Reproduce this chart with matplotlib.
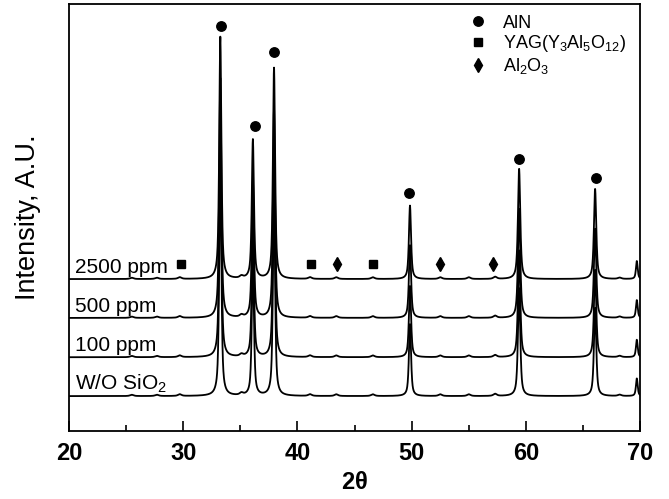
import numpy as np
import matplotlib.pyplot as plt
from matplotlib.lines import Line2D

plt.rcParams['font.family'] = ['Liberation Sans', 'DejaVu Sans']
plt.rcParams['mathtext.fontset'] = 'custom'
plt.rcParams['mathtext.rm'] = 'Liberation Sans'
plt.rcParams['mathtext.it'] = 'Liberation Sans'
plt.rcParams['mathtext.bf'] = 'Liberation Sans:bold'

## samples, bottom to top
samples = ['W/O SiO$_2$', '100 ppm', '500 ppm', '2500 ppm']
offsets = [82, 173, 265, 356]          ## baseline of each trace (a.u.)

## main AlN reflections: position (deg), height above baseline (a.u.)
aln_pos = [33.25, 36.1, 37.95, 49.85, 59.4, 66.05, 69.7]
aln_height = [567, 326, 494, 172, 258, 211, 42]
aln_hwhm = [0.11, 0.11, 0.11, 0.11, 0.12, 0.12, 0.09]

## small secondary bumps (YAG / Al2O3 / others)
minor_pos = [25.5, 27.7, 29.7, 35.1, 41.1, 43.4, 46.6, 52.5, 55.0, 57.3, 68.2]
minor_height = [3, 3, 4, 5, 4, 4, 4, 4, 4, 5, 3]

## per-sample intensity scale of the main peaks
scale = [0.98, 0.97, 0.99, 1.0]

## phase markers over the 2500 ppm trace
aln_mark_x = [33.35, 36.25, 37.95, 49.8, 59.4, 66.1]
aln_mark_y = [949, 715, 888, 558, 638, 592]
yag_mark_x = [29.8, 41.2, 46.6]
al2o3_mark_x = [43.45, 52.5, 57.1]
phase_mark_y = 391

two_theta = np.arange(20.0, 70.0, 0.01)


def peak(x, x0, h, w):
    ## pseudo-Voigt profile
    lor = 1.0 / (1.0 + ((x - x0) / w) ** 2)
    gau = np.exp(-np.log(2) * ((x - x0) / w) ** 2)
    return h * (0.7 * lor + 0.3 * gau)


fig = plt.figure(figsize=(6.69, 4.99), dpi=100)
ax = fig.add_axes([0.103, 0.136, 0.854, 0.856])

for name, off, s in zip(samples, offsets, scale):
    y = np.full_like(two_theta, float(off))
    for p, h, w in zip(aln_pos, aln_height, aln_hwhm):
        y += peak(two_theta, p, h * s, w)
    for p, h in zip(minor_pos, minor_height):
        y += peak(two_theta, p, h, 0.18)
    ax.plot(two_theta, y, color='black', lw=1.3)
    ax.text(20.5, off + 14, name, fontsize=15, va='baseline', ha='left')

ax.plot(aln_mark_x, aln_mark_y, 'o', color='black', ms=6.8, ls='none')
ax.plot(yag_mark_x, [phase_mark_y] * len(yag_mark_x), 's', color='black', ms=6.0, ls='none')
ax.plot(al2o3_mark_x, [phase_mark_y] * len(al2o3_mark_x), 'd', color='black', ms=7.5, ls='none')

handles = [
    Line2D([], [], marker='o', color='black', ls='none', ms=6.8),
    Line2D([], [], marker='s', color='black', ls='none', ms=6.0),
    Line2D([], [], marker='d', color='black', ls='none', ms=7.5),
]
labels = ['AlN', 'YAG(Y$_3$Al$_5$O$_{12}$)', 'Al$_2$O$_3$']
ax.legend(handles, labels, loc='upper left', bbox_to_anchor=(0.70, 0.975),
          frameon=False, fontsize=13, borderpad=0, borderaxespad=0,
          handlelength=1.0, handletextpad=0.9, labelspacing=0.1)

ax.set_xlim(20, 70)
ax.set_ylim(0, 1000)
ax.set_xticks(range(20, 71, 10))
ax.set_xticks(range(25, 70, 10), minor=True)
ax.set_yticks([])
ax.tick_params(axis='x', which='major', direction='in', length=7, width=1.2,
               labelsize=17, pad=8)
ax.tick_params(axis='x', which='minor', direction='in', length=4, width=1.2)
for lab in ax.get_xticklabels():
    lab.set_fontweight('bold')
for sp in ax.spines.values():
    sp.set_linewidth(1.3)

ax.set_xlabel(r'2$\mathbf{\theta}$', fontsize=17, fontweight='bold', labelpad=4)
ax.set_ylabel('Intensity, A.U.', fontsize=19.5, labelpad=20)

fig.savefig('out.png', dpi=100)
